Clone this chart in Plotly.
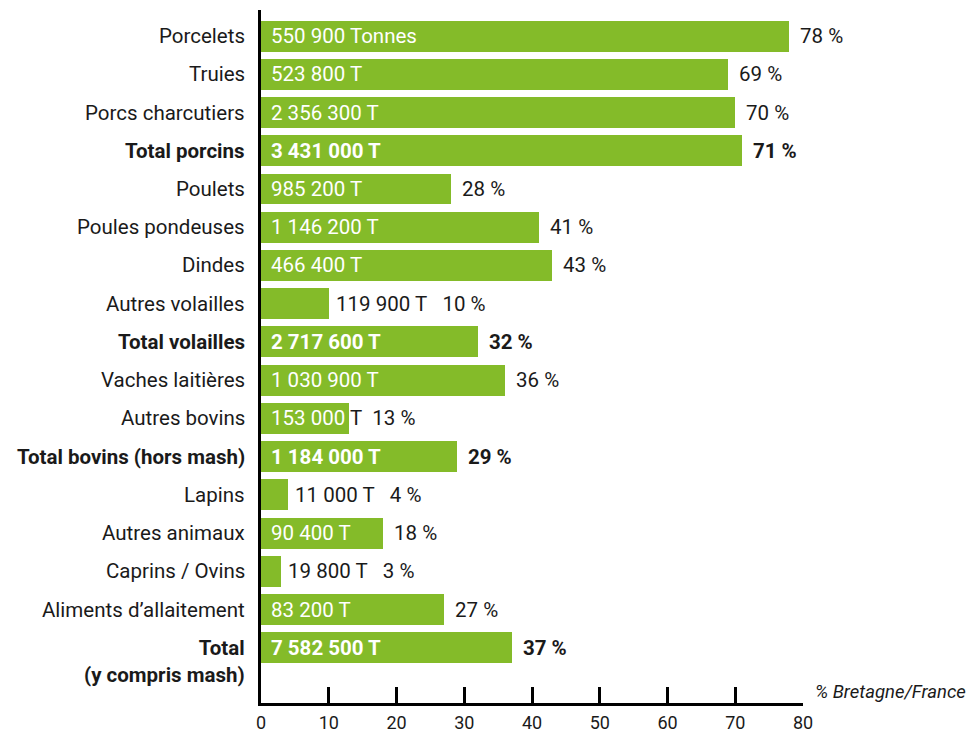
import plotly.graph_objects as go

categories = ["Porcelets", "Truies", "Porcs charcutiers", "Total porcins", "Poulets",
              "Poules pondeuses", "Dindes", "Autres volailles", "Total volailles",
              "Vaches laitières", "Autres bovins", "Total bovins (hors mash)", "Lapins",
              "Autres animaux", "Caprins / Ovins", "Aliments d’allaitement",
              "Total<br>(y compris mash)"]
percent = [78, 69, 70, 71, 28, 41, 43, 10, 32, 36, 13, 29, 4, 18, 3, 27, 37]
tonnage = ["550 900 Tonnes", "523 800 T", "2 356 300 T", "3 431 000 T", "985 200 T",
           "1 146 200 T", "466 400 T", "119 900 T", "2 717 600 T", "1 030 900 T",
           "153 000 T", "1 184 000 T", "11 000 T", "90 400 T", "19 800 T", "83 200 T",
           "7 582 500 T"]
is_total = [False, False, False, True, False, False, False, False, True,
            False, False, True, False, False, False, False, True]
x_ticks = [0, 10, 20, 30, 40, 50, 60, 70, 80]

GREEN = "#84BB29"
INK = "#1a1a1a"
FONT = "Roboto"
FS = 20.5

idx = list(range(len(categories)))

fig = go.Figure(go.Bar(
    x=percent, y=idx, orientation="h",
    marker=dict(color=GREEN, line=dict(width=0)),
    width=0.81, hoverinfo="skip",
))

ann = []
for i, (c, p, t, tot) in enumerate(zip(categories, percent, tonnage, is_total)):
    b = (lambda s: f"<b>{s}</b>") if tot else (lambda s: s)
    # category label
    if "<br>" in c:
        ann.append(dict(x=0, xref="paper", y=i, yref="y", xanchor="right", yanchor="top",
                        xshift=-14, yshift=14, align="right", text=b(c),
                        showarrow=False, font=dict(family=FONT, size=FS, color=INK)))
    else:
        ann.append(dict(x=0, xref="paper", y=i, yref="y", xanchor="right", yanchor="middle",
                        xshift=-14, text=b(c), showarrow=False,
                        font=dict(family=FONT, size=FS, color=INK)))
    pct = f"{p} %"
    if p >= 17:
        ann.append(dict(x=0, y=i, xanchor="left", yanchor="middle", xshift=8, text=b(t),
                        showarrow=False, font=dict(family=FONT, size=FS, color="white")))
        ann.append(dict(x=p, y=i, xanchor="left", yanchor="middle", xshift=9, text=b(pct),
                        showarrow=False, font=dict(family=FONT, size=FS, color=INK)))
    elif p >= 12:
        num, unit = t.rsplit(" ", 1)
        txt = f"<span style='color:white'>{num}</span> {unit}\u00a0\u00a0{pct}"
        ann.append(dict(x=0, y=i, xanchor="left", yanchor="middle", xshift=8, text=txt,
                        showarrow=False, font=dict(family=FONT, size=FS, color=INK)))
    else:
        txt = f"{t}\u00a0\u00a0\u00a0{pct}"
        ann.append(dict(x=p, y=i, xanchor="left", yanchor="middle", xshift=5, text=txt,
                        showarrow=False, font=dict(family=FONT, size=FS, color=INK)))

ann.append(dict(x=1, xref="paper", y=0, yref="paper", xanchor="left", yanchor="middle",
                xshift=10, yshift=11, text="<i>% Bretagne/France</i>", showarrow=False,
                font=dict(family=FONT, size=18.5, color=INK)))

fig.update_layout(
    width=979, height=736,
    margin=dict(l=253, r=184, t=2, b=41),
    paper_bgcolor="white", plot_bgcolor="white",
    showlegend=False, bargap=0,
    annotations=ann,
    xaxis=dict(range=[0, 80], tickvals=x_ticks, ticks="inside", ticklen=16,
               tickwidth=2.5, tickcolor="black", showline=True, linecolor="black",
               linewidth=2.5, showgrid=False, zeroline=False,
               ticklabelstandoff=2,
               tickfont=dict(family=FONT, size=18, color=INK)),
    yaxis=dict(range=[17.44, -0.68], tickvals=idx, showticklabels=False, ticks="",
               showline=True, linecolor="black", linewidth=2.5, showgrid=False,
               zeroline=False),
)

fig.write_html("out.html")
